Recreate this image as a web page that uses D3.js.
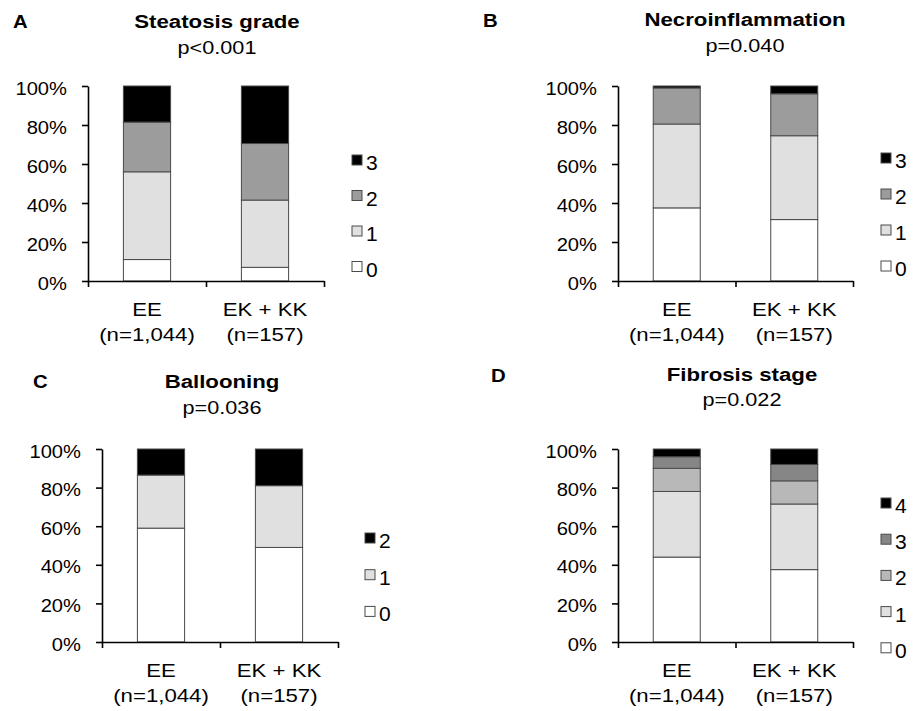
<!DOCTYPE html>
<html>
<head>
<meta charset="utf-8">
<script src="https://cdn.jsdelivr.net/npm/d3@7"></script>
<style>
  body { margin: 0; background: #fff; }
  text { font-family: Arial, "Liberation Sans", sans-serif; fill: #000; }
</style>
</head>
<body>
<script>
const groups = ["EE", "EK + KK"];
const groupSizes = ["(n=1,044)", "(n=157)"];
const yTicks = [0, 20, 40, 60, 80, 100];

const steatosisLevels = ["0", "1", "2", "3"];
const steatosisEE = [11, 45, 25.5, 18.5];
const steatosisEKKK = [7, 34.5, 29, 29.5];

const necroLevels = ["0", "1", "2", "3"];
const necroEE = [37.5, 43, 18.5, 1];
const necroEKKK = [31.5, 43, 21.5, 4];

const ballooningLevels = ["0", "1", "2"];
const ballooningEE = [59, 27.5, 13.5];
const ballooningEKKK = [49, 32, 19];

const fibrosisLevels = ["0", "1", "2", "3", "4"];
const fibrosisEE = [44, 34, 12, 6, 4];
const fibrosisEKKK = [37.5, 34, 12, 8.5, 8];

const panels = [
  { letter: "A", title: "Steatosis grade", p: "p<0.001",
    levels: steatosisLevels, values: [steatosisEE, steatosisEKKK],
    colors: ["#ffffff", "#e0e0e0", "#9c9c9c", "#000000"],
    x0: 88, x1: 324, yTop: 86, yBot: 281,
    letterX: 13, letterY: 28, titleX: 217, titleY: 28, pY: 54,
    legX: 352, legTop: 155, legStep: 35.5 },
  { letter: "B", title: "Necroinflammation", p: "p=0.040",
    levels: necroLevels, values: [necroEE, necroEKKK],
    colors: ["#ffffff", "#e0e0e0", "#9c9c9c", "#000000"],
    x0: 618, x1: 853, yTop: 86, yBot: 281,
    letterX: 483, letterY: 27, titleX: 745, titleY: 26, pY: 52,
    legX: 881, legTop: 153, legStep: 36 },
  { letter: "C", title: "Ballooning", p: "p=0.036",
    levels: ballooningLevels, values: [ballooningEE, ballooningEKKK],
    colors: ["#ffffff", "#e0e0e0", "#000000"],
    x0: 102, x1: 338, yTop: 449, yBot: 642,
    letterX: 33, letterY: 388, titleX: 222, titleY: 388, pY: 414,
    legX: 365, legTop: 533, legStep: 36.7 },
  { letter: "D", title: "Fibrosis stage", p: "p=0.022",
    levels: fibrosisLevels, values: [fibrosisEE, fibrosisEKKK],
    colors: ["#ffffff", "#e0e0e0", "#b8b8b8", "#868686", "#000000"],
    x0: 618, x1: 853, yTop: 449, yBot: 642,
    letterX: 491, letterY: 382, titleX: 742, titleY: 381, pY: 406,
    legX: 881, legTop: 498, legStep: 36.2 }
];

const svg = d3.select("body").append("svg")
  .attr("width", 913)
  .attr("height", 711)
  .style("background", "#fff");

// text in the reference is a little wider than plain Arial
const label = (g, x, y, str, size, sx, anchor, bold) => g.append("text")
  .attr("transform", `translate(${x},${y}) scale(${sx},1)`)
  .attr("text-anchor", anchor)
  .style("font-size", size + "px")
  .style("font-weight", bold ? "bold" : "normal")
  .text(str);

panels.forEach(pn => {
  const g = svg.append("g");

  const rows = groups.map((grp, i) => {
    const r = { group: grp };
    pn.levels.forEach((lv, j) => r[lv] = pn.values[i][j]);
    return r;
  });
  const series = d3.stack().keys(pn.levels)(rows);

  const x = d3.scaleBand().domain(groups).range([pn.x0, pn.x1])
    .paddingInner(0.6).paddingOuter(0.3);
  const y = d3.scaleLinear().domain([0, 100]).range([pn.yBot, pn.yTop]);
  const color = d3.scaleOrdinal().domain(pn.levels).range(pn.colors);

  g.selectAll("g.layer")
    .data(series)
    .enter().append("g")
    .attr("class", "layer")
    .attr("fill", d => color(d.key))
    .selectAll("rect")
    .data(d => d)
    .enter().append("rect")
    .attr("x", d => x(d.data.group))
    .attr("y", d => y(d[1]))
    .attr("width", x.bandwidth())
    .attr("height", d => y(d[0]) - y(d[1]))
    .attr("stroke", "#4a4a4a")
    .attr("stroke-width", 1);

  // y axis
  const yAxis = g.append("g")
    .attr("transform", `translate(${pn.x0},0)`)
    .call(d3.axisLeft(y).tickValues(yTicks).tickFormat(d => d + "%")
      .tickSize(6).tickSizeOuter(0));
  yAxis.selectAll("text").remove();
  yAxis.selectAll(".tick").each(function(d) {
    label(d3.select(this), -21, 8, d + "%", 18, 1.12, "end", false);
  });

  // x axis: ticks at the band edges
  const xEdge = d3.scaleLinear().domain([0, groups.length]).range([pn.x0, pn.x1]);
  const xAxis = g.append("g")
    .attr("transform", `translate(0,${pn.yBot})`)
    .call(d3.axisBottom(xEdge).tickValues(d3.range(groups.length + 1))
      .tickFormat("").tickSize(6).tickSizeOuter(0));

  [yAxis, xAxis].forEach(a => {
    a.selectAll("path, line").attr("stroke", "#000").attr("stroke-width", 1.6);
  });

  groups.forEach((grp, i) => {
    const cx = x(grp) + x.bandwidth() / 2;
    label(g, cx, pn.yBot + 35, grp, 18.5, 1.2, "middle", false);
    label(g, cx, pn.yBot + 60, groupSizes[i], 18.5, 1.2, "middle", false);
  });

  label(g, pn.letterX, pn.letterY, pn.letter, 18.5, 1.1, "start", true);
  label(g, pn.titleX, pn.titleY, pn.title, 19, 1.17, "middle", true);
  label(g, pn.titleX, pn.pY, pn.p, 19, 1.14, "middle", false);

  // legend, highest level on top
  const legend = g.selectAll("g.leg")
    .data(pn.levels.slice().reverse())
    .enter().append("g")
    .attr("class", "leg")
    .attr("transform", (d, i) => `translate(${pn.legX},${pn.legTop + i * pn.legStep})`);
  legend.append("rect")
    .attr("width", 10).attr("height", 10)
    .attr("fill", d => color(d))
    .attr("stroke", "#4a4a4a").attr("stroke-width", 1);
  legend.each(function(d) {
    label(d3.select(this), 14, 15, d, 21, 1.0, "start", false);
  });
});
</script>
</body>
</html>
